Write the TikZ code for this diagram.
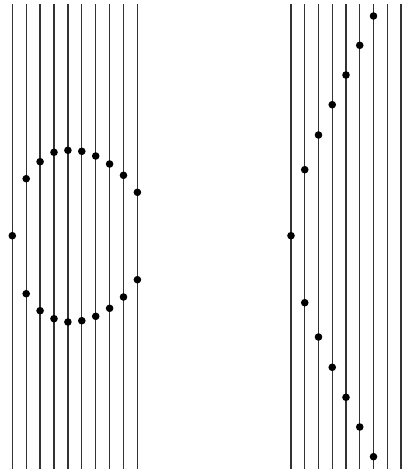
\documentclass[tikz,border=0pt]{standalone}
\begin{document}
\begin{tikzpicture}[x=1pt,y=-1pt,
  wire/.style={line width=1.3pt,draw=black!80},
  dot/.style={circle,fill=black,inner sep=0pt,minimum size=7.6pt}]
\useasboundingbox (0,0) rectangle (414,472);
% left group
\foreach \i in {0,...,9}{
  \draw[wire] ({12.3+13.9*\i},4) -- ({12.3+13.9*\i},469);
}
\foreach \i/\a/\b in {1/178.7/293.7,2/161.7/310.7,3/152.3/318.7,4/150.3/322,5/151.3/320.7,6/156/316.3,7/164/308.3,8/175.3/297,9/192.3/279.7}{
  \node[dot] (lt\i) at ({12.3+13.9*\i},\a) {};
  \node[dot] (lb\i) at ({12.3+13.9*\i},\b) {};
}
\node[dot] (l0) at (12.3,235.7) {};
% right group
\foreach \i in {0,...,8}{
  \draw[wire] ({291+13.75*\i},4) -- ({291+13.75*\i},469);
}
\node[dot] (r0) at (291,235.7) {};
\foreach \i/\a/\b in {1/169.7/302.7,2/135/337,3/104.7/367.3,4/75/397.3,5/45.3/427,6/16/456.7}{
  \node[dot] (rt\i) at ({291+13.75*\i},\a) {};
  \node[dot] (rb\i) at ({291+13.75*\i},\b) {};
}
\end{tikzpicture}
\end{document}
